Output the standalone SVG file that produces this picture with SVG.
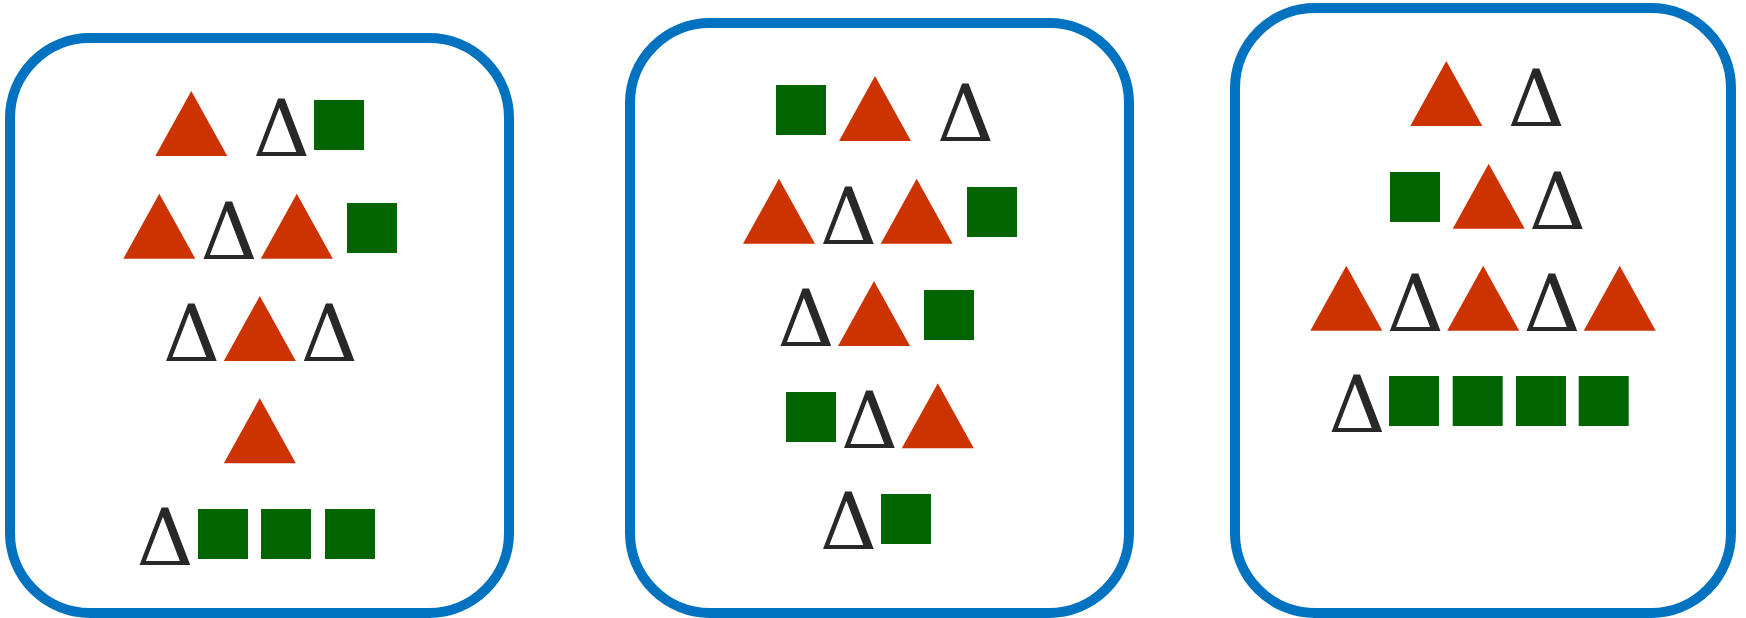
<svg xmlns="http://www.w3.org/2000/svg" xmlns:xlink="http://www.w3.org/1999/xlink" width="1746" height="618" viewBox="0 0 1746 618">
<style>
.frame{fill:#ffffff;stroke:#0072C0;stroke-width:10}
.tri{fill:#CC3300}
.sq{fill:#006400}
.d{font-family:"DejaVu Serif","Liberation Serif",serif;font-size:79px;fill:#282828}
</style>
<defs>
<path id="tri" class="tri" d="M-36 0 L0 -65 L36 0 Z"/>
<rect id="sq" class="sq" width="50" height="50"/>
</defs>
<rect width="1746" height="618" fill="#ffffff"/>
<g id="connectors"/>
<g id="box1">
<rect class="frame" x="10" y="38" width="499" height="575" rx="80" ry="80"/>
<use xlink:href="#tri" x="191.3" y="156"/>
<text class="d" x="253.1" y="156">Δ</text>
<use xlink:href="#sq" x="314" y="100"/>
<use xlink:href="#tri" x="159.3" y="258.7"/>
<text class="d" x="200.5" y="258.7">Δ</text>
<use xlink:href="#tri" x="296.8" y="258.7"/>
<use xlink:href="#sq" x="347" y="203"/>
<text class="d" x="163.1" y="360.7">Δ</text>
<use xlink:href="#tri" x="259.8" y="361"/>
<text class="d" x="300.8" y="360.7">Δ</text>
<use xlink:href="#tri" x="259.8" y="463.3"/>
<text class="d" x="136.5" y="564.7">Δ</text>
<use xlink:href="#sq" x="198" y="509"/>
<use xlink:href="#sq" x="261" y="509"/>
<use xlink:href="#sq" x="325" y="509"/>
</g>
<g id="box2">
<rect class="frame" x="630" y="23" width="499" height="590" rx="80" ry="80"/>
<use xlink:href="#sq" x="776" y="85"/>
<use xlink:href="#tri" x="875" y="141"/>
<text class="d" x="937.1" y="141">Δ</text>
<use xlink:href="#tri" x="779" y="243.7"/>
<text class="d" x="820.1" y="243.7">Δ</text>
<use xlink:href="#tri" x="916.7" y="243.7"/>
<use xlink:href="#sq" x="967" y="187"/>
<text class="d" x="777.5" y="345.7">Δ</text>
<use xlink:href="#tri" x="874" y="346"/>
<use xlink:href="#sq" x="924" y="290"/>
<use xlink:href="#sq" x="786" y="392"/>
<text class="d" x="841.1" y="448">Δ</text>
<use xlink:href="#tri" x="937.8" y="448.3"/>
<text class="d" x="820.1" y="549.3">Δ</text>
<use xlink:href="#sq" x="881" y="494"/>
</g>
<g id="box3">
<rect class="frame" x="1235" y="8" width="496" height="605" rx="80" ry="80"/>
<use xlink:href="#tri" x="1446.3" y="126"/>
<text class="d" x="1507.8" y="126">Δ</text>
<use xlink:href="#sq" x="1390" y="172"/>
<use xlink:href="#tri" x="1488.7" y="228.7"/>
<text class="d" x="1529.1" y="228.7">Δ</text>
<use xlink:href="#tri" x="1346.3" y="330.7"/>
<text class="d" x="1386.8" y="330.7">Δ</text>
<use xlink:href="#tri" x="1483.2" y="330.7"/>
<text class="d" x="1523.5" y="330.7">Δ</text>
<use xlink:href="#tri" x="1619.7" y="330.7"/>
<text class="d" x="1328.5" y="432.3">Δ</text>
<use xlink:href="#sq" x="1389" y="376"/>
<use xlink:href="#sq" x="1452.7" y="376"/>
<use xlink:href="#sq" x="1516" y="376"/>
<use xlink:href="#sq" x="1578.7" y="376"/>
</g>
</svg>
